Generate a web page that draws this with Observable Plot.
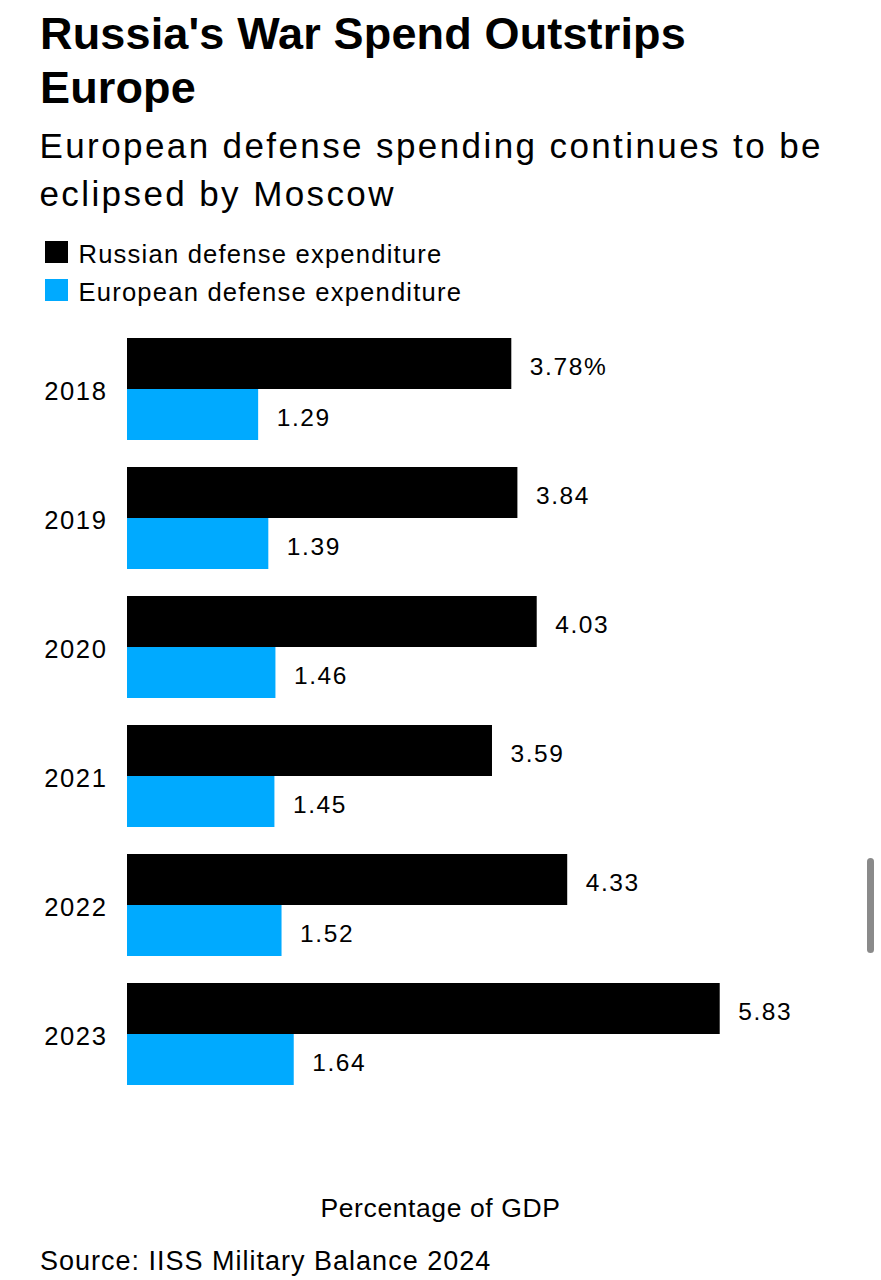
<!DOCTYPE html>
<html>
<head>
<meta charset="utf-8">
<script src="https://cdn.jsdelivr.net/npm/d3@7"></script>
<script src="https://cdn.jsdelivr.net/npm/@observablehq/plot@0.6"></script>
<style>
  html, body { margin: 0; padding: 0; background: #fff; }
  #page { position: relative; width: 881px; height: 1280px; overflow: hidden; font-family: "Liberation Sans", Arial, sans-serif; color: #000; }
  .abs { position: absolute; white-space: nowrap; }
  #title { left: 40px; top: 7px; font-size: 45px; line-height: 54px; font-weight: bold; letter-spacing: 0.15px; }
  #subtitle { left: 39.5px; top: 122.2px; font-size: 35px; line-height: 48px; letter-spacing: 2.4px; }
  #legend { left: 45px; top: 235px; font-size: 25.6px; line-height: 38.4px; letter-spacing: 1.2px; }
  #legend .sw { display: inline-block; width: 22.5px; height: 22.5px; vertical-align: baseline; margin-right: 11px; }
  #chart { left: 0; top: 320px; }
  #chart svg text { letter-spacing: 1.6px; }
  #xlabel { left: 0; width: 881px; text-align: center; top: 1192.5px; font-size: 26.5px; line-height: 30px; letter-spacing: 0.6px; }
  #source { left: 40px; top: 1246.4px; font-size: 27px; line-height: 30px; letter-spacing: 1px; }
  #scroll { left: 866.5px; top: 858px; width: 7px; height: 95px; border-radius: 3.5px; background: #8a8a8a; }
</style>
</head>
<body>
<div id="page">
  <div id="title" class="abs">Russia's War Spend Outstrips<br>Europe</div>
  <div id="subtitle" class="abs">European defense spending continues to be<br>eclipsed by Moscow</div>
  <div id="legend" class="abs"></div>
  <div id="chart" class="abs"></div>
  <div id="xlabel" class="abs">Percentage of GDP</div>
  <div id="source" class="abs">Source: IISS Military Balance 2024</div>
  <div id="scroll" class="abs"></div>
</div>
<script>
const years = ["2018", "2019", "2020", "2021", "2022", "2023"];
const russia = [3.78, 3.84, 4.03, 3.59, 4.33, 5.83];
const europe = [1.29, 1.39, 1.46, 1.45, 1.52, 1.64];
const seriesNames = ["Russian defense expenditure", "European defense expenditure"];
const seriesColors = ["#000000", "#00aaff"];

// legend
const legend = document.getElementById("legend");
legend.innerHTML = seriesNames.map((n, i) =>
  `<div><span class="sw" style="background:${seriesColors[i]}"></span>${n}</div>`).join("");

const data = [];
years.forEach((y, i) => {
  data.push({year: y, series: seriesNames[0], value: russia[i], label: russia[i].toFixed(2) + (i === 0 ? "%" : "")});
  data.push({year: y, series: seriesNames[1], value: europe[i], label: europe[i].toFixed(2)});
});

const chart = Plot.plot({
  width: 881,
  height: 765,
  marginTop: 18,
  marginBottom: 0,
  marginLeft: 127,
  marginRight: 144,
  style: {fontFamily: "Liberation Sans, Arial, sans-serif", color: "#000", background: "transparent"},
  x: {domain: [0, 6], axis: null},
  y: {domain: seriesNames, padding: 0, axis: null},
  fy: {domain: years, paddingInner: 27 / 129, paddingOuter: 0, label: null},
  color: {domain: seriesNames, range: seriesColors},
  marks: [
    Plot.barX(data, {x: "value", y: "series", fy: "year", fill: "series"}),
    Plot.text(data, {x: "value", y: "series", fy: "year", text: "label", textAnchor: "start", dx: 18, dy: 3.5, fontSize: 24.5, fill: "#000"}),
    Plot.axisFy({anchor: "left", tickSize: 0, tickPadding: 20, fontSize: 25.6, label: null, dy: 2})
  ]
});
document.getElementById("chart").appendChild(chart);
</script>
</body>
</html>
